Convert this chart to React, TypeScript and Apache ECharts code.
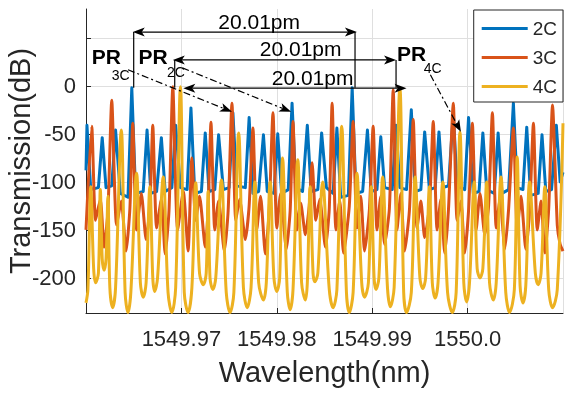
import React, { useEffect, useRef } from 'react';
import * as echarts from 'echarts';

// ---------- data (wavelength in nm, transmission in dB) ----------
const wl2C = [1549.96, 1549.9601, 1549.9605, 1549.9613, 1549.9617, 1549.9621, 1549.9627, 1549.9631, 1549.9636, 1549.9644,
  1549.9648, 1549.9652, 1549.966, 1549.9664, 1549.9668, 1549.9674, 1549.9679, 1549.9683, 1549.969, 1549.9694,
  1549.9699, 1549.9706, 1549.971, 1549.9714, 1549.9721, 1549.9725, 1549.9729, 1549.9735, 1549.9739, 1549.9744,
  1549.975, 1549.9754, 1549.9758, 1549.9767, 1549.9771, 1549.9775, 1549.9781, 1549.9786, 1549.979, 1549.9797,
  1549.9801, 1549.9805, 1549.9812, 1549.9816, 1549.982, 1549.9827, 1549.9832, 1549.9836, 1549.9843, 1549.9847,
  1549.9852, 1549.9859, 1549.9863, 1549.9867, 1549.9875, 1549.9879, 1549.9883, 1549.989, 1549.9895, 1549.9899,
  1549.9905, 1549.9909, 1549.9913, 1549.9921, 1549.9925, 1549.9929, 1549.9936, 1549.9941, 1549.9945, 1549.9951,
  1549.9955, 1549.996, 1549.9966, 1549.997, 1549.9974, 1549.998, 1549.9985, 1549.9989, 1549.9997, 1550.0001,
  1550.0006, 1550.0012, 1550.0016, 1550.002, 1550.0028, 1550.0032, 1550.0036, 1550.0043, 1550.0048, 1550.0052,
  1550.0058, 1550.0062, 1550.0066, 1550.0074, 1550.0078, 1550.0082, 1550.0088, 1550.0093, 1550.0097, 1550.01];
const t2C = [-88, -41, -108, -106, -54, -106, -104, -46, -112, -116,
  -2, -112, -110, -46, -112, -110, -54, -110, -106, -41,
  -106, -108, -23, -112, -110, -49, -110, -108, -51, -108,
  -106, -28, -104, -106, -33, -112, -110, -51, -110, -112,
  -50, -112, -108, -18, -106, -110, -41, -110, -108, -49,
  -106, -112, -44, -116, -114, -2, -112, -110, -46, -110,
  -108, -53, -106, -108, -41, -106, -108, -25, -110, -108,
  -48, -108, -106, -48, -106, -104, -28, -104, -108, -33,
  -112, -110, -49, -108, -112, -49, -112, -108, -18, -106,
  -108, -43, -114, -112, -51, -110, -108, -41, -100, -90];

const wl3C = [1549.96, 1549.9606, 1549.961, 1549.9615, 1549.9619, 1549.9623, 1549.9627, 1549.9632, 1549.9637, 1549.9642,
  1549.9646, 1549.9649, 1549.9653, 1549.9658, 1549.9663, 1549.9667, 1549.967, 1549.9674, 1549.9679, 1549.9683,
  1549.9687, 1549.9691, 1549.9696, 1549.9702, 1549.9707, 1549.9711, 1549.9715, 1549.9719, 1549.9725, 1549.9728,
  1549.9731, 1549.9735, 1549.9739, 1549.9745, 1549.9749, 1549.9753, 1549.9757, 1549.9761, 1549.9767, 1549.9771,
  1549.9775, 1549.9779, 1549.9783, 1549.9788, 1549.9792, 1549.9796, 1549.98, 1549.9804, 1549.981, 1549.9814,
  1549.9817, 1549.9821, 1549.9825, 1549.983, 1549.9834, 1549.9837, 1549.9841, 1549.9845, 1549.9851, 1549.9855,
  1549.9858, 1549.9862, 1549.9866, 1549.987, 1549.9876, 1549.988, 1549.9884, 1549.9888, 1549.9892, 1549.9897,
  1549.9901, 1549.9905, 1549.9909, 1549.9913, 1549.9918, 1549.9922, 1549.9926, 1549.993, 1549.9934, 1549.9939,
  1549.9943, 1549.9947, 1549.9951, 1549.9955, 1549.996, 1549.9964, 1549.9968, 1549.9972, 1549.9976, 1549.998,
  1549.9985, 1549.9989, 1549.9993, 1549.9997, 1550.0001, 1550.0005, 1550.0009, 1550.0013, 1550.0018, 1550.0022,
  1550.0026, 1550.003, 1550.0034, 1550.0039, 1550.0043, 1550.0048, 1550.0052, 1550.0056, 1550.0061, 1550.0065,
  1550.0069, 1550.0073, 1550.0077, 1550.0081, 1550.0085, 1550.0089, 1550.0094, 1550.0097, 1550.01];
const t3C = [-150, -42, -140, -118, -168, -130, -15, -145, -120, -172,
  -128, -39, -150, -112, -160, -125, -41, -148, -118, -175,
  -130, -1, -150, -110, -172, -75, -140, -115, -168, -128,
  -38, -150, -120, -172, -130, -18, -140, -118, -160, -125,
  -44, -150, -115, -175, -130, -28, -148, -112, -170, -130,
  -37, -150, -122, -155, -125, -80, -140, -118, -168, -128,
  -18, -150, -120, -174, -125, -37, -148, -115, -172, -130,
  -42, -150, -115, -165, -128, -4, -150, -112, -172, -130,
  -35, -148, -120, -158, -125, -37, -150, -118, -174, -128,
  -18, -140, -120, -174, -130, -39, -150, -112, -155, -125,
  -28, -148, -118, -170, -128, -44, -150, -115, -170, -130,
  -39, -150, -120, -174, -128, -20, -145, -165, -172];

const wl4C = [1549.96, 1549.9602, 1549.9605, 1549.9608, 1549.961, 1549.9613, 1549.9615, 1549.9617, 1549.9619, 1549.9621,
  1549.9623, 1549.9625, 1549.9628, 1549.9631, 1549.9637, 1549.9641, 1549.9644, 1549.9647, 1549.9653, 1549.9657,
  1549.966, 1549.9663, 1549.9667, 1549.967, 1549.9672, 1549.9675, 1549.9681, 1549.9686, 1549.969, 1549.9694,
  1549.9699, 1549.9703, 1549.9707, 1549.9711, 1549.9715, 1549.9719, 1549.9723, 1549.9726, 1549.9728, 1549.973,
  1549.9733, 1549.9736, 1549.9742, 1549.9747, 1549.9751, 1549.9755, 1549.976, 1549.9765, 1549.9769, 1549.9773,
  1549.9777, 1549.9781, 1549.9786, 1549.9789, 1549.9793, 1549.9797, 1549.98, 1549.9803, 1549.9806, 1549.9811,
  1549.9814, 1549.9817, 1549.9822, 1549.9826, 1549.983, 1549.9832, 1549.9835, 1549.9838, 1549.984, 1549.9843,
  1549.9848, 1549.9855, 1549.9859, 1549.9863, 1549.9868, 1549.9873, 1549.9876, 1549.988, 1549.9884, 1549.9889,
  1549.9892, 1549.9896, 1549.9899, 1549.9902, 1549.9904, 1549.9907, 1549.9911, 1549.9916, 1549.9919, 1549.9923,
  1549.9929, 1549.9933, 1549.9936, 1549.9941, 1549.9945, 1549.995, 1549.9953, 1549.9956, 1549.996, 1549.9963,
  1549.9966, 1549.9969, 1549.9974, 1549.9979, 1549.9984, 1549.9988, 1549.9992, 1549.9996, 1549.9999, 1550.0002,
  1550.0007, 1550.001, 1550.0013, 1550.0016, 1550.002, 1550.0023, 1550.0027, 1550.003, 1550.0035, 1550.004,
  1550.0044, 1550.0049, 1550.0052, 1550.0055, 1550.0058, 1550.0061, 1550.0065, 1550.0071, 1550.0074, 1550.0077,
  1550.0081, 1550.0085, 1550.0089, 1550.0094, 1550.01];
const t4C = [-226, -212, -105, -190, -205, -195, -108, -180, -192, -180,
  -115, -210, -231, -210, -46, -215, -236, -215, -91, -205,
  -220, -205, -105, -200, -214, -200, -95, -215, -236, -210,
  -1, -215, -236, -210, -101, -195, -207, -195, -110, -200,
  -212, -200, -98, -215, -236, -215, -49, -210, -231, -210,
  -100, -205, -223, -205, -100, -200, -214, -200, -75, -215,
  -233, -212, -77, -205, -223, -205, -105, -195, -204, -195,
  -100, -212, -231, -212, -42, -215, -236, -215, -91, -205,
  -220, -205, -105, -200, -212, -200, -95, -210, -230, -210,
  -2, -215, -236, -215, -95, -200, -211, -200, -105, -205,
  -221, -205, -100, -215, -236, -215, -48, -205, -225, -205,
  -100, -190, -200, -190, -100, -205, -223, -205, -95, -215,
  -236, -212, -74, -208, -226, -208, -100, -195, -207, -195,
  -105, -212, -231, -212, -39];

// axes
const xMin = 1549.96;
const xMax = 1550.01;
const xStep = 0.01;
const yMin = -236.5;
const yMax = 80;
const yTickValues = [-200, -150, -100, -50, 0, 50];
const yLabelValues = [-200, -150, -100, -50, 0];

// annotations (data coordinates)
const spanY = [56, 27, -2.4];
const spanLeft = [1549.9649, 1549.9691, 1549.9702];
const spanRight = [1549.9884, 1549.9925, 1549.9936];
const spanLabelX = [1549.97815, 1549.9825, 1549.98375];
const spanText = '20.01pm';
const dropX = [1549.965, 1549.9882, 1549.9693, 1549.9925];
const dropTop = [56, 56, 27, 27];
const dropBottom = [-2, -2, -2, -2];
const pointerFrom = [[1549.9644, 16.7], [1549.9701, 18.75], [1549.9961, 11.5]];
const pointerTo = [[1549.9753, -27.1], [1549.9815, -27.1], [1549.9993, -47.9]];
const prX = [1549.9606, 1549.9655, 1549.9926];
const prY = [30.7, 30.7, 33.3];
const subX = [1549.9627, 1549.9685, 1549.9954];
const subY = [11.5, 14.7, 18.3];
const subText = ['3C', '2C', '4C'];

const FONT = '"Liberation Sans", Arial, Helvetica, sans-serif';
const AX = '#262626';

function zip(xs: number[], ys: number[]) {
  return xs.map((x, i) => [x, ys[i]]);
}

export default function App() {
  const ref = useRef<HTMLDivElement>(null);
  useEffect(() => {
    const chart = echarts.init(ref.current!, null, { renderer: 'svg' });
    const lineSeries = (name: string, color: string, xs: number[], ys: number[], smooth: number | boolean) => ({
      name,
      type: 'line',
      data: zip(xs, ys),
      showSymbol: false,
      symbol: 'none',
      smooth,
      lineStyle: { color, width: 3, join: 'round' },
      itemStyle: { color },
      clip: true,
    });
    chart.setOption({
      animation: false,
      textStyle: { fontFamily: FONT },
      grid: { left: 86, right: 18, top: 9, bottom: 83, containLabel: false, outerBoundsMode: 'none' },
      legend: {
        orient: 'vertical',
        right: 18,
        top: 10,
        icon: 'rect',
        itemWidth: 46,
        itemHeight: 3,
        itemGap: 10,
        padding: [9, 6, 6, 8],
        borderColor: AX,
        borderWidth: 1,
        backgroundColor: '#fff',
        textStyle: { fontSize: 19, color: AX, fontFamily: FONT },
        data: ['2C', '3C', '4C'],
      },
      xAxis: {
        type: 'value',
        min: xMin,
        max: xMax,
        interval: xStep,
        name: 'Wavelength(nm)',
        nameLocation: 'middle',
        nameGap: 44,
        nameTextStyle: { fontSize: 29, color: AX, fontFamily: FONT },
        axisLine: { show: true, onZero: false, lineStyle: { color: AX, width: 1 } },
        axisTick: { show: true, inside: true, length: 5, lineStyle: { color: AX } },
        axisLabel: {
          fontSize: 22,
          color: AX,
          margin: 14,
          showMinLabel: false,
          showMaxLabel: false,
          formatter: (v: number) => (Math.abs(v - 1550) < 1e-6 ? '1550.0' : v.toFixed(2)),
        },
        splitLine: { show: true, lineStyle: { color: '#dfdfdf', width: 1 } },
      },
      yAxis: {
        type: 'value',
        min: yMin,
        max: yMax,
        name: 'Transmission(dB)',
        nameLocation: 'middle',
        nameGap: 52,
        nameMoveOverlap: false,
        nameTextStyle: { fontSize: 29, color: AX, fontFamily: FONT },
        axisLine: { show: true, onZero: false, lineStyle: { color: AX, width: 1 } },
        axisTick: { show: true, inside: true, length: 5, customValues: yTickValues, lineStyle: { color: AX } },
        axisLabel: { fontSize: 22, color: AX, margin: 10, customValues: yLabelValues },
        splitLine: { show: true, lineStyle: { color: '#dfdfdf', width: 1 } },
      },
      series: [
        lineSeries('2C', '#0072BD', wl2C, t2C, false),
        lineSeries('3C', '#D95319', wl3C, t3C, 0.2),
        lineSeries('4C', '#EDB120', wl4C, t4C, 0.35),
      ],
    });

    const P = (x: number, y: number) => chart.convertToPixel({ gridIndex: 0 }, [x, y]) as number[];
    const g: any[] = [];
    const Z = 100;
    const head = (tip: number[], from: number[]) => {
      const dx = tip[0] - from[0];
      const dy = tip[1] - from[1];
      const L = Math.hypot(dx, dy) || 1;
      const ux = dx / L, uy = dy / L;
      const nx = -uy, ny = ux;
      const len = 12, w = 4.5, notch = 3;
      const bx = tip[0] - len * ux, by = tip[1] - len * uy;
      g.push({
        type: 'polygon', z: Z,
        shape: { points: [tip, [bx + w * nx, by + w * ny], [tip[0] - (len - notch) * ux, tip[1] - (len - notch) * uy], [bx - w * nx, by - w * ny]] },
        style: { fill: '#000' },
      });
      return [tip[0] - (len - notch) * ux, tip[1] - (len - notch) * uy];
    };
    const seg = (a: number[], b: number[], dash?: number[]) => {
      g.push({
        type: 'line', z: Z,
        shape: { x1: a[0], y1: a[1], x2: b[0], y2: b[1] },
        style: { stroke: '#000', lineWidth: 1.2, lineDash: dash || null },
      });
    };
    spanY.forEach((y, i) => {
      const a = P(spanLeft[i], y);
      const b = P(spanRight[i], y);
      const a2 = head(a, b);
      const b2 = head(b, a);
      seg(a2, b2);
      const lp = P(spanLabelX[i], y);
      g.push({
        type: 'text', z: Z,
        style: { x: lp[0], y: lp[1] - 11, text: spanText, fontSize: 21, fontFamily: FONT, fill: '#000', align: 'center', verticalAlign: 'middle' },
      });
    });
    dropX.forEach((x, i) => {
      seg(P(x, dropTop[i]), P(x, dropBottom[i]));
    });
    pointerFrom.forEach((f, i) => {
      const a = P(f[0], f[1]);
      const b = P(pointerTo[i][0], pointerTo[i][1]);
      const b2 = head(b, a);
      seg(a, b2, [7, 3, 2, 3]);
    });
    prX.forEach((x, i) => {
      const p = P(x, prY[i]);
      g.push({
        type: 'text', z: Z,
        style: { x: p[0], y: p[1], text: 'PR', fontSize: 21, lineHeight: 16, fontWeight: 'bold', fontFamily: FONT, fill: '#000', align: 'left', verticalAlign: 'middle' },
      });
      const s = P(subX[i], subY[i]);
      g.push({
        type: 'text', z: Z,
        style: { x: s[0], y: s[1], text: subText[i], fontSize: 14, lineHeight: 11, fontFamily: FONT, fill: '#000', align: 'left', verticalAlign: 'middle' },
      });
    });
    chart.setOption({ graphic: g });
    return () => chart.dispose();
  }, []);
  return <div ref={ref} style={{ position: 'fixed', left: 0, top: 0, width: 581, height: 396 }} />;
}
